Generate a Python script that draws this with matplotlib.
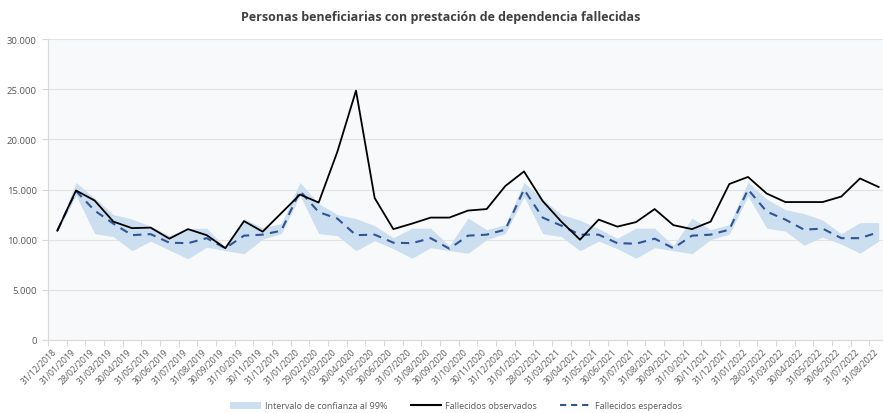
import matplotlib
matplotlib.use("Agg")
import matplotlib.pyplot as plt
import matplotlib.transforms as mtransforms
from matplotlib.patches import Patch
from matplotlib.lines import Line2D

plt.rcParams['font.family'] = ['Open Sans', 'DejaVu Sans']

dates = ["31/12/2018", "31/01/2019", "28/02/2019", "31/03/2019", "30/04/2019", "31/05/2019",
         "30/06/2019", "31/07/2019", "31/08/2019", "30/09/2019", "31/10/2019", "30/11/2019",
         "31/12/2019", "31/01/2020", "29/02/2020", "31/03/2020", "30/04/2020", "31/05/2020",
         "30/06/2020", "31/07/2020", "31/08/2020", "30/09/2020", "31/10/2020", "30/11/2020",
         "31/12/2020", "31/01/2021", "28/02/2021", "31/03/2021", "30/04/2021", "31/05/2021",
         "30/06/2021", "31/07/2021", "31/08/2021", "30/09/2021", "31/10/2021", "30/11/2021",
         "31/12/2021", "31/01/2022", "28/02/2022", "31/03/2022", "30/04/2022", "31/05/2022",
         "30/06/2022", "31/07/2022", "31/08/2022"]

observados = [10900, 14900, 13900, 11800, 11150, 11200, 10100, 11050, 10450, 9150,
              11850, 10800, 12650, 14500, 13700, 18750, 24850, 14150, 11050, 11600,
              12200, 12200, 12900, 13050, 15350, 16800, 13850, 11800, 10000, 12000,
              11300, 11750, 13050, 11450, 11050, 11800, 15550, 16250, 14600, 13750,
              13750, 13750, 14300, 16100, 15250]

esperados = [10900, 14850, 12900, 11600, 10450, 10550, 9700, 9650, 10150, 9150,
             10400, 10500, 10900, 14850, 12750, 12100, 10450, 10500, 9700, 9650,
             10150, 9100, 10400, 10500, 11000, 15000, 12200, 11400, 10500, 10500,
             9650, 9600, 10100, 9150, 10400, 10500, 11000, 15000, 12800, 12000,
             11000, 11100, 10150, 10150, 10750]

ic_superior = [11000, 15700, 14150, 12500, 12050, 11350, 10400, 11100, 11150, 9250,
               12100, 11200, 11600, 15700, 13600, 12500, 12100, 11400, 10200, 11150,
               11150, 9400, 12150, 11000, 11500, 15700, 14050, 12500, 11950, 11100,
               10150, 11150, 11150, 9400, 12150, 11000, 11500, 15750, 14050, 13000,
               12600, 11950, 10600, 11700, 11700]

ic_inferior = [10800, 14400, 10600, 10300, 8900, 9850, 8950, 8100, 9250, 8900,
               8600, 10050, 10600, 14400, 10600, 10400, 8900, 9900, 9100, 8150,
               9200, 8900, 8650, 10000, 10600, 14300, 10600, 10300, 8900, 9850,
               9100, 8150, 9200, 8900, 8600, 10000, 10550, 14350, 11150, 10850,
               9450, 10250, 9550, 8650, 9850]

x = list(range(len(dates)))

fig = plt.figure(figsize=(8.83, 4.14), dpi=100)
fig.patch.set_facecolor('white')
left = 48 / 883
width = (888 - 48) / 883
bottom = (414 - 341) / 414
height = (341 - 40) / 414
ax = fig.add_axes([left, bottom, width, height])
ax.set_facecolor('#F8F9FB')

band_color = '#CCDFF1'
ax.fill_between(x, ic_inferior, ic_superior, color=band_color, linewidth=0, zorder=2)
ax.plot(x, observados, color='black', linewidth=1.3, zorder=4)
ax.plot(x, esperados, color='#2F5597', linewidth=1.5, linestyle=(0, (4, 3)), zorder=3)

ax.set_xlim(-0.5, len(dates) - 0.5)
ax.set_ylim(0, 30000)
ax.set_yticks(range(0, 30001, 5000))
ax.set_yticklabels([f"{v:,}".replace(",", ".") for v in range(0, 30001, 5000)],
                   fontsize=6.8, color='#595959')
ax.yaxis.grid(True, color='#E3E3E3', linewidth=0.8, zorder=0)
ax.set_axisbelow(True)

ax.set_xticks(x)
ax.set_xticklabels(dates, rotation=45, ha='right', rotation_mode='anchor',
                   fontsize=6.2, color='#595959')
ax.set_xticks([i - 0.5 for i in range(len(dates) + 1)], minor=True)
ax.tick_params(axis='x', which='major', length=0, pad=5)
ax.tick_params(axis='x', which='minor', length=4, color='#D9D9D9', width=0.8)
ax.tick_params(axis='y', length=4, color='#D9D9D9', width=0.8, pad=4)

offset = mtransforms.ScaledTranslation(-5 / 100, 0, fig.dpi_scale_trans)
for tick in ax.xaxis.get_major_ticks():
    tick.label1.set_transform(tick.label1.get_transform() + offset)

for s in ['top', 'right']:
    ax.spines[s].set_visible(False)
ax.spines['left'].set_color('#D9D9D9')
ax.spines['bottom'].set_color('#D9D9D9')

fig.text(441 / 883, 1 - 17 / 414, 'Personas beneficiarias con prestación de dependencia fallecidas',
         ha='center', va='center', fontsize=9, fontweight='bold', color='#404040')

handles = [Patch(facecolor=band_color, edgecolor='none'),
           Line2D([0], [0], color='black', linewidth=1.5),
           Line2D([0], [0], color='#2F5597', linewidth=1.5, linestyle=(0, (3, 2.3)))]
labels = ['Intervalo de confianza al 99%', 'Fallecidos observados', 'Fallecidos esperados']
fig.legend(handles, labels, loc='center', bbox_to_anchor=(456 / 883, 1 - 407 / 414),
           ncol=3, frameon=False, fontsize=6.5, labelcolor='#595959',
           handlelength=3.4, columnspacing=2.6, handletextpad=0.4)

fig.savefig('out.png', dpi=100, facecolor='white')
